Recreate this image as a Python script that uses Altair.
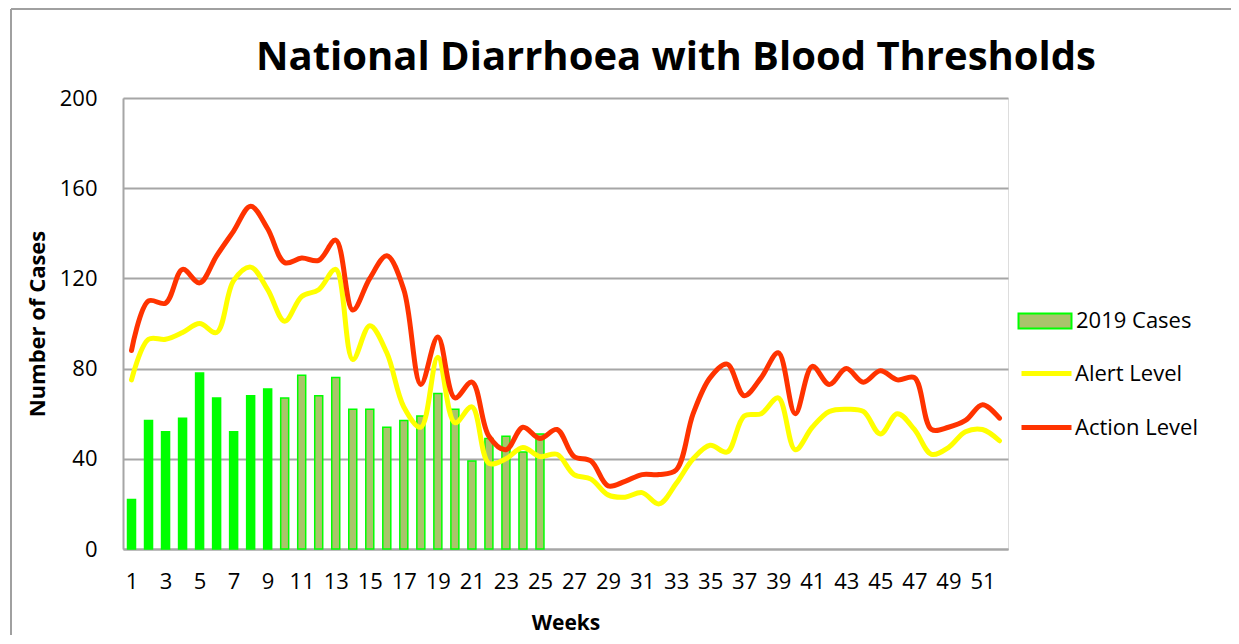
import altair as alt
import pandas as pd

weeks = list(range(1, 53))

cases_weeks = list(range(1, 26))
cases = [22, 57, 52, 58, 78, 67, 52, 68, 71, 67, 77, 68, 76, 62, 62, 54, 57, 59, 69, 62, 39, 49, 50, 43, 51]
case_kind = ["2019 early"] * 9 + ["2019 Cases"] * 16

alert = [75, 93, 93, 96, 100, 96, 119, 125, 115, 101, 112, 115, 124, 84, 99, 87, 63, 54, 85, 56,
         63, 38, 40, 45, 41, 42, 33, 31, 24, 23, 25, 20, 29, 40, 46, 43, 59, 60, 67, 44,
         54, 61, 62, 61, 51, 60, 53, 42, 45, 52, 53, 48]
action = [88, 110, 109, 124, 118, 130, 141, 152, 142, 127, 129, 128, 137, 106, 120, 130, 115, 73, 94, 67,
          74, 50, 44, 54, 49, 53, 41, 39, 28, 30, 33, 33, 35, 60, 76, 82, 68, 76, 87, 60,
          81, 73, 80, 74, 79, 75, 76, 53, 54, 57, 64, 58]

x_ticks = list(range(1, 52, 2))
y_ticks = [0, 40, 80, 120, 160, 200]
title_text = "National Diarrhoea with Blood Thresholds"

FONT = "Open Sans"
GREEN = "#00FF00"
OLIVE = "#A9C46B"
YELLOW = "#FFFF00"
RED = "#FF3300"
GRID = "#A6A6A6"

bars_df = pd.DataFrame({"week": cases_weeks, "cases": cases, "kind": case_kind})
lines_df = pd.DataFrame({
    "week": weeks * 2,
    "value": alert + action,
    "series": ["Alert Level"] * 52 + ["Action Level"] * 52,
})

x_scale = alt.Scale(domain=[0.5, 52.5], nice=False, zero=False, padding=0)
y_scale = alt.Scale(domain=[0, 200], nice=False)

x_axis = alt.Axis(values=x_ticks, grid=False, ticks=False, labelFontSize=22, labelFont=FONT,
                  labelColor="black", labelPadding=22, domainColor=GRID, domainWidth=2,
                  labelOverlap=False, labelFlush=False, labelBound=False,
                  title="Weeks", titleFont=FONT, titleFontSize=21, titleFontWeight="bold",
                  titleColor="black", titleY=80, titleBaseline="alphabetic")
y_axis = alt.Axis(values=y_ticks, grid=True, gridColor=GRID, gridWidth=2, ticks=False,
                  labelFontSize=22, labelFont=FONT, labelColor="black", labelPadding=26,
                  domainColor=GRID, domainWidth=2,
                  title="Number of Cases", titleFont=FONT, titleFontSize=22, titleFontWeight="bold",
                  titleColor="black", titleX=-86, titleBaseline="middle")

rect_path = "M-1.06,-0.3H1.06V0.3H-1.06Z"

bars = alt.Chart(bars_df).mark_bar(size=8, stroke=GREEN, strokeWidth=1.5).encode(
    x=alt.X("week:Q", scale=x_scale, axis=x_axis),
    y=alt.Y("cases:Q", scale=y_scale, axis=y_axis),
    fill=alt.Fill("kind:N",
                  scale=alt.Scale(domain=["2019 Cases", "2019 early"], range=[OLIVE, GREEN]),
                  legend=alt.Legend(title=None, values=["2019 Cases"], orient="none",
                                    legendX=896, legendY=197, symbolType=rect_path,
                                    symbolSize=2500, symbolStrokeColor=GREEN, symbolStrokeWidth=2,
                                    symbolFillColor=OLIVE, labelFont=FONT, labelFontSize=22,
                                    labelColor="black", labelOffset=5, padding=0)),
)

lines = alt.Chart(lines_df).mark_line(strokeWidth=5, interpolate="catmull-rom",
                                      strokeCap="round").encode(
    x=alt.X("week:Q", scale=x_scale, axis=x_axis),
    y=alt.Y("value:Q", scale=y_scale, axis=y_axis),
    stroke=alt.Stroke("series:N",
                      scale=alt.Scale(domain=["Alert Level", "Action Level"], range=[YELLOW, RED]),
                      sort=["Alert Level", "Action Level"],
                      legend=alt.Legend(title=None, orient="none", legendX=896, legendY=248,
                                        symbolType="stroke", symbolSize=2500, symbolStrokeWidth=5,
                                        labelFont=FONT, labelFontSize=22, labelColor="black",
                                        labelOffset=1, rowPadding=15, padding=0)),
)

title_df = pd.DataFrame({"t": [title_text]})
title = alt.Chart(title_df).mark_text(font=FONT, fontSize=40, fontWeight="bold", color="black",
                                      baseline="alphabetic", align="center").encode(
    text="t:N", x=alt.value(553), y=alt.value(-28))

frame_df = pd.DataFrame({"k": [0]})
frame_left = alt.Chart(frame_df).mark_rule(color="#A0A0A0", strokeWidth=2).encode(
    x=alt.value(-112), y=alt.value(-89), y2=alt.value(700))
frame_top = alt.Chart(frame_df).mark_rule(color="#A0A0A0", strokeWidth=2).encode(
    x=alt.value(-112), x2=alt.value(1300), y=alt.value(-89))

chart = alt.layer(frame_left, frame_top, bars, lines, title).resolve_scale(
    fill="independent", stroke="independent"
).properties(
    width=885, height=451,
    autosize=alt.AutoSizeParams(type="none"),
    padding={"left": 115, "top": 90, "right": 223, "bottom": 86},
).configure_view(stroke=None).configure(background="white")

chart.save("out.html", embed_options={"renderer": "svg", "actions": False})
